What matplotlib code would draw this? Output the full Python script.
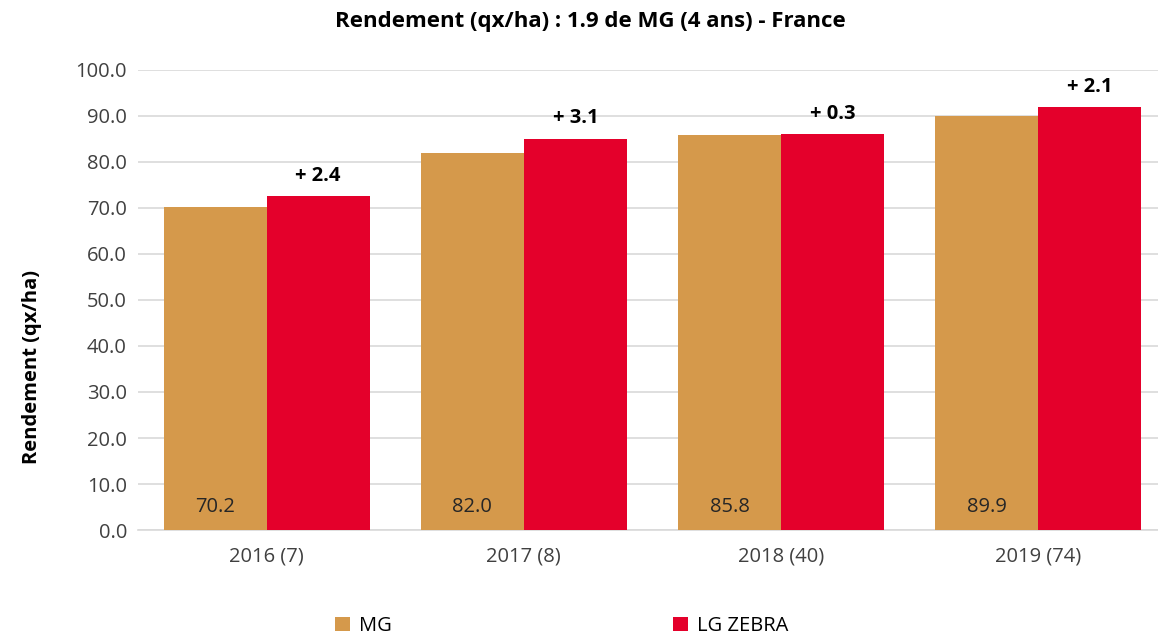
import numpy as np
import matplotlib.pyplot as plt

categories = ['2016 (7)', '2017 (8)', '2018 (40)', '2019 (74)']
mg = [70.2, 82.0, 85.8, 89.9]
lg_zebra = [72.6, 85.1, 86.1, 92.0]
deltas = ['+ 2.4', '+ 3.1', '+ 0.3', '+ 2.1']

plt.rcParams['font.family'] = ['Open Sans', 'DejaVu Sans']

fig = plt.figure(figsize=(11.58, 6.39), dpi=100)
ax = fig.add_axes([138 / 1158, 1 - 530 / 639, 1029 / 1158, 460 / 639])

x = np.arange(len(categories))
w = 0.4
b1 = ax.bar(x - w / 2, mg, w, color='#D5994B', label='MG', zorder=3)
b2 = ax.bar(x + w / 2, lg_zebra, w, color='#E4002B', label='LG ZEBRA', zorder=3)

fs = 14.5
for xi, v in zip(x, mg):
    ax.text(xi - w / 2, 5, f'{v:.1f}', ha='center', va='center', fontsize=fs, color='#262626')
for xi, v, d in zip(x, lg_zebra, deltas):
    ax.text(xi + w / 2, v + 2.2, d, ha='center', va='bottom', fontsize=fs,
            fontweight='bold', color='#000000')

ax.set_xlim(-0.5, 3.5)
ax.set_ylim(0, 100)
ax.set_yticks(np.arange(0, 101, 10))
ax.set_yticklabels([f'{t:.1f}' for t in np.arange(0, 101, 10)])
ax.set_xticks(x)
ax.set_xticklabels(categories)
ax.tick_params(axis='both', length=0, labelsize=fs, colors='#404040', pad=8)
ax.tick_params(axis='x', pad=12)
ax.grid(axis='y', color='#D9D9D9', linewidth=1.2, zorder=0)
for s in ['top', 'right', 'left']:
    ax.spines[s].set_visible(False)
ax.spines['bottom'].set_color('#D9D9D9')
ax.spines['bottom'].set_linewidth(1.2)

ax.set_ylabel('Rendement (qx/ha)', fontsize=fs, fontweight='bold')
ax.yaxis.set_label_coords(-0.093, 0.354)
fig.text(0.51, 1 - 21 / 639, 'Rendement (qx/ha) : 1.9 de MG (4 ans) - France', ha='center',
         va='center', fontsize=16, fontweight='bold')

fig.legend(handles=[b1, b2], loc='center', bbox_to_anchor=(0.485, 1 - 626 / 639), ncol=2,
           frameon=False, fontsize=fs, columnspacing=14, handlelength=0.75, handleheight=0.75,
           handletextpad=0.4)

fig.savefig('out.png', dpi=100)
